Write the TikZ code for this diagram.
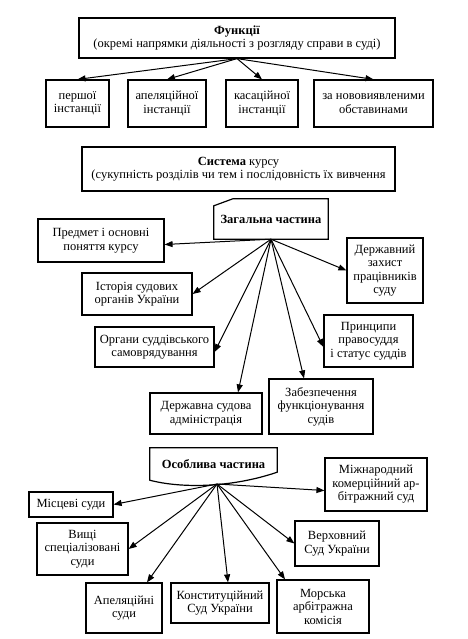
\documentclass[tikz,border=0pt]{standalone}
\usepackage{fontspec}
\setmainfont{Liberation Serif}
\usetikzlibrary{arrows.meta}

\begin{document}
\begin{tikzpicture}[x=1pt, y=-1pt, font=\fontsize{12.5}{13.5}\selectfont,
		box/.style={draw, line width=1.2pt, align=center, inner sep=1pt},
		arr/.style={line width=1pt, -{Triangle[length=8pt, width=6pt]}}]
		
		\useasboundingbox (0,0) rectangle (467,639);
		
		% Functions and their four kinds
		
		\node[box, minimum width=316pt, minimum height=40pt] (func) at (237,38) {\textbf{Функції}\\(окремі напрямки діяльності з розгляду справи в суді)};
		
		\node[box, minimum width=63pt, minimum height=47pt] (perv) at (77.5,103.5) {першої\\інстанції};
		
		\node[box, minimum width=78pt, minimum height=47pt] (apel) at (167,103.5) {апеляційної\\інстанції};
		
		\node[box, minimum width=72pt, minimum height=47pt] (kas) at (262,103.5) {касаційної\\інстанції};
		
		\node[box, minimum width=119pt, minimum height=47pt] (nov) at (373.5,103.5) {за нововиявленими\\обставинами};
		
		\foreach \n in {perv, apel, kas, nov}
		\draw[arr] (func.south) -- (\n.north);
		
		% System of the course
		
		\node[box, minimum width=313pt, minimum height=44pt] (sys) at (238.5,169) {\textbf{Система} курсу\\(сукупність розділів чи тем і послідовність їх вивчення};
		
		% General part (card with a cut corner)
		
		\node[minimum width=114pt, minimum height=40pt] (zag) at (271,219) {\textbf{Загальна частина}};
		
		\draw[line width=1.2pt] ([yshift=-7pt]zag.north west) -- ([xshift=19pt]zag.north west) -- (zag.north east) -- (zag.south east) -- (zag.south west) -- cycle;
		
		\node[box, minimum width=126pt, minimum height=43pt] (pred) at (101,240.5) {Предмет і основні\\поняття курсу};
		
		\node[box, minimum width=110pt, minimum height=42pt] (ist) at (137,294) {Історія судових\\органів України};
		
		\node[box, minimum width=76pt, minimum height=65pt] (zah) at (385,270.5) {Державний\\захист\\працівників\\суду};
		
		\node[box, minimum width=119pt, minimum height=40pt] (org) at (154.5,347) {Органи суддівського\\самоврядування};
		
		\node[box, minimum width=112pt, minimum height=41pt] (adm) at (206,413.5) {Державна судова\\адміністрація};
		
		\node[box, minimum width=104pt, minimum height=55pt] (zab) at (321,406.5) {Забезпечення\\функціонування\\судів};
		
		\node[box, minimum width=89pt, minimum height=52pt] (pryn) at (368.5,341) {Принципи\\правосуддя\\і статус суддів};
		
		\draw[arr] (zag.south) -- ([yshift=-4pt]pred.east);
		
		\draw[arr] (zag.south) -- (ist.east);
		
		\draw[arr] (zag.south) -- (zah.west);
		
		\draw[arr] (zag.south) -- ([yshift=-5pt]org.east);
		
		\draw[arr] (zag.south) -- ([xshift=32pt]adm.north);
		
		\draw[arr] (zag.south) -- ([xshift=-17pt]zab.north);
		
		\draw[arr] (zag.south) -- ([yshift=-6pt]pryn.west);
		
		% Special part (document shape with a wavy bottom)
		
		\node[minimum width=127pt, minimum height=32pt] (osob) at (213.5,464) {\textbf{Особлива частина}};
		
		\draw[line width=1.2pt] (osob.south west) -- (osob.north west) -- (osob.north east) -- ([yshift=8pt]osob.south east) .. controls +(-47,16) and +(30,8) .. (osob.south west) -- cycle;
		
		\coordinate (osrc) at (217,484);
		
		\node[box, minimum width=102pt, minimum height=53pt] (mizh) at (376,484.5) {Міжнародний\\комерційний ар-\\бітражний суд};
		
		\node[box, minimum width=84pt, minimum height=25pt] (mis) at (71,504.5) {Місцеві суди};
		
		\node[box, minimum width=91pt, minimum height=52pt] (vysh) at (82.5,549) {Вищі\\спеціалізовані\\суди};
		
		\node[box, minimum width=84pt, minimum height=45pt] (verkh) at (337,543.5) {Верховний\\Суд України};
		
		\node[box, minimum width=76pt, minimum height=50pt] (apsud) at (124,608) {Апеляційні\\суди};
		
		\node[box, minimum width=98pt, minimum height=40pt] (konst) at (220,603) {Конституційний\\Суд України};
		
		\node[box, minimum width=92pt, minimum height=53pt] (mors) at (323,606.5) {Морська\\арбітражна\\комісія};
		
		\draw[arr] (osrc) -- ([yshift=-6pt]mizh.west);
		
		\draw[arr] (osrc) -- (mis.east);
		
		\draw[arr] (osrc) -- (vysh.east);
		
		\draw[arr] (osrc) -- (verkh.west);
		
		\draw[arr] (osrc) -- ([xshift=23pt]apsud.north);
		
		\draw[arr] (osrc) -- ([xshift=8pt]konst.north);
		
		\draw[arr] (osrc) -- ([xshift=-38pt]mors.north);
		
	\end{tikzpicture}
\end{document}
